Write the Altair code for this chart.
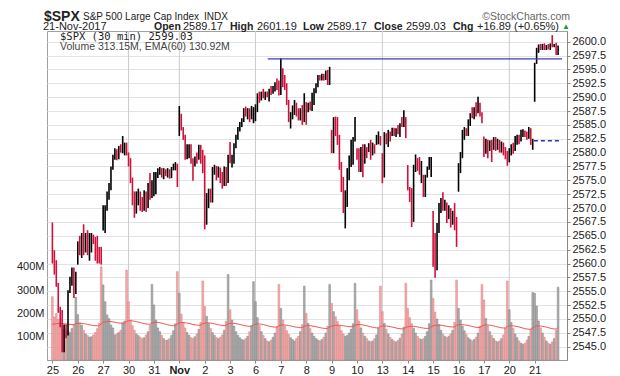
import altair as alt
import pandas as pd

day_labels = ["25", "26", "27", "30", "31", "Nov", "2", "3", "6", "7", "8", "9",
              "10", "13", "14", "15", "16", "17", "20", "21"]
week_start_days = [3, 5, 8, 13, 18]
prev_close = 2569.13

closes = [
    [2561.0, 2559.0, 2556.5, 2552.0, 2549.5, 2545.5, 2547.5, 2547.0, 2554.5, 2557.0, 2558.5, 2555.0, 2557.15],
    [2563.0, 2562.0, 2565.0, 2563.0, 2564.5, 2562.5, 2564.0, 2565.0, 2564.5, 2563.0, 2561.5, 2560.5, 2560.4],
    [2567.0, 2570.0, 2572.5, 2574.0, 2577.0, 2579.2, 2580.5, 2579.0, 2581.0, 2580.4, 2580.5, 2581.6, 2581.07],
    [2578.5, 2575.0, 2571.5, 2569.0, 2572.5, 2573.0, 2570.5, 2570.0, 2572.5, 2570.5, 2573.5, 2572.0, 2572.83],
    [2574.0, 2576.0, 2577.0, 2577.2, 2576.0, 2577.0, 2576.0, 2576.8, 2575.6, 2577.2, 2577.5, 2578.0, 2575.26],
    [2585.5, 2584.5, 2583.0, 2579.5, 2581.0, 2581.2, 2579.0, 2577.5, 2579.0, 2578.5, 2581.0, 2580.0, 2579.36],
    [2568.0, 2571.5, 2573.0, 2572.0, 2576.5, 2577.5, 2576.0, 2577.0, 2575.5, 2574.5, 2577.0, 2575.0, 2579.3],
    [2578.5, 2579.3, 2581.3, 2583.0, 2584.3, 2585.2, 2586.0, 2587.7, 2587.0, 2587.8, 2586.3, 2587.5, 2587.84],
    [2588.2, 2590.0, 2589.5, 2590.5, 2590.0, 2590.7, 2590.3, 2591.3, 2591.0, 2591.8, 2592.5, 2592.0, 2591.13],
    [2594.0, 2592.5, 2591.8, 2589.0, 2586.0, 2586.8, 2588.0, 2589.0, 2587.5, 2586.3, 2587.5, 2586.0, 2589.5],
    [2588.5, 2588.8, 2588.0, 2590.5, 2591.3, 2592.3, 2593.5, 2593.2, 2594.0, 2593.4, 2594.5, 2594.2, 2594.38],
    [2580.5, 2585.0, 2583.5, 2582.0, 2577.5, 2573.5, 2570.0, 2572.5, 2576.0, 2578.5, 2580.5, 2582.0, 2584.62],
    [2579.5, 2578.0, 2580.0, 2578.5, 2580.5, 2580.0, 2581.0, 2580.0, 2581.3, 2580.8, 2582.5, 2582.8, 2582.3],
    [2575.5, 2582.5, 2582.0, 2583.5, 2582.8, 2584.0, 2583.5, 2584.0, 2583.8, 2585.0, 2584.8, 2586.5, 2584.84],
    [2574.0, 2572.0, 2568.0, 2576.5, 2578.5, 2577.5, 2577.0, 2577.8, 2573.0, 2575.5, 2577.0, 2578.5, 2578.87],
    [2561.0, 2559.5, 2566.5, 2570.0, 2571.5, 2570.5, 2571.2, 2568.5, 2570.0, 2568.0, 2568.8, 2567.5, 2564.62],
    [2576.3, 2579.5, 2583.5, 2584.3, 2583.5, 2585.8, 2586.8, 2586.4, 2587.8, 2587.3, 2589.5, 2587.0, 2585.64],
    [2580.0, 2581.5, 2580.5, 2581.3, 2579.5, 2581.5, 2581.0, 2581.8, 2581.0, 2581.5, 2580.3, 2579.5, 2578.85],
    [2580.0, 2581.0, 2580.5, 2582.5, 2582.8, 2582.4, 2583.4, 2583.8, 2583.2, 2582.8, 2583.5, 2582.0, 2582.14],
    [2596.0, 2598.5, 2599.2, 2598.8, 2599.3, 2598.9, 2599.2, 2599.0, 2599.4, 2599.1, 2599.5, 2598.5, 2599.03],
]

highs = [
    [2567.4, 2562.4, 2560.6, 2556.5, 2552.2, 2551.6, 2549.0, 2549.0, 2555.2, 2557.6, 2559.3, 2559.3, 2558.5],
    [2564.0, 2565.0, 2565.5, 2567.07, 2565.5, 2566.0, 2565.5, 2565.5, 2565.2, 2564.8, 2565.0, 2563.0, 2563.0],
    [2570.5, 2570.5, 2573.0, 2574.5, 2577.5, 2579.6, 2580.8, 2580.6, 2581.2, 2581.5, 2582.98, 2581.8, 2581.8],
    [2580.03, 2579.0, 2575.5, 2573.0, 2573.0, 2573.5, 2573.0, 2572.0, 2573.2, 2573.0, 2574.5, 2576.3, 2575.0],
    [2576.5, 2576.5, 2577.2, 2577.4, 2577.2, 2577.2, 2577.0, 2577.2, 2577.0, 2577.4, 2578.0, 2578.29, 2578.0],
    [2588.4, 2587.0, 2584.6, 2583.2, 2581.5, 2581.5, 2581.5, 2579.0, 2579.3, 2580.0, 2581.4, 2581.4, 2580.5],
    [2579.5, 2572.7, 2573.5, 2573.5, 2577.4, 2577.8, 2577.6, 2577.5, 2577.3, 2576.5, 2577.5, 2577.4, 2579.6],
    [2581.9, 2579.6, 2581.7, 2583.2, 2584.6, 2585.5, 2586.2, 2588.0, 2588.3, 2588.0, 2588.0, 2588.42, 2588.2],
    [2588.7, 2590.7, 2591.0, 2591.0, 2591.5, 2591.0, 2591.0, 2591.5, 2592.0, 2592.0, 2592.7, 2593.38, 2593.0],
    [2597.02, 2595.2, 2594.0, 2592.5, 2589.5, 2587.3, 2588.5, 2589.5, 2589.0, 2588.0, 2588.0, 2588.6, 2590.7],
    [2589.1, 2589.0, 2589.2, 2590.8, 2591.6, 2592.5, 2594.0, 2594.0, 2594.2, 2594.2, 2594.8, 2594.9, 2595.47],
    [2584.1, 2586.4, 2586.5, 2586.4, 2583.2, 2578.3, 2575.6, 2573.2, 2577.2, 2579.5, 2582.3, 2582.8, 2586.4],
    [2580.8, 2580.8, 2581.0, 2581.5, 2581.5, 2581.0, 2581.7, 2582.3, 2581.8, 2581.5, 2583.2, 2583.81, 2583.0],
    [2579.9, 2583.7, 2583.5, 2584.1, 2583.8, 2584.5, 2584.5, 2584.4, 2585.0, 2585.3, 2586.4, 2587.66, 2586.4],
    [2577.75, 2573.8, 2573.6, 2577.8, 2579.66, 2579.0, 2579.2, 2578.5, 2576.0, 2576.0, 2577.5, 2579.2, 2579.2],
    [2569.45, 2565.5, 2567.3, 2570.9, 2571.8, 2572.84, 2571.5, 2571.0, 2570.5, 2570.0, 2569.5, 2570.9, 2568.4],
    [2578.1, 2580.1, 2584.1, 2584.6, 2584.4, 2586.0, 2587.1, 2588.2, 2588.2, 2589.1, 2590.09, 2589.0, 2587.3],
    [2582.9, 2582.5, 2582.3, 2582.2, 2582.3, 2582.8, 2582.8, 2582.5, 2582.3, 2582.0, 2581.8, 2581.0, 2580.3],
    [2580.8, 2581.5, 2581.8, 2583.0, 2583.2, 2583.2, 2584.1, 2584.2, 2584.0, 2583.8, 2584.64, 2584.4, 2582.5],
    [2596.2, 2598.9, 2599.5, 2599.6, 2599.6, 2599.7, 2599.4, 2599.6, 2599.7, 2601.19, 2599.6, 2599.8, 2599.3],
]

lows = [
    [2560.0, 2558.0, 2555.8, 2551.1, 2548.5, 2544.0, 2544.0, 2546.5, 2547.0, 2554.7, 2556.0, 2553.8, 2554.5],
    [2559.8, 2561.5, 2561.0, 2561.5, 2562.0, 2561.5, 2560.5, 2562.0, 2563.5, 2560.5, 2560.0, 2560.0, 2559.8],
    [2565.94, 2565.5, 2569.5, 2571.5, 2573.2, 2576.9, 2578.7, 2578.6, 2578.8, 2580.0, 2579.9, 2579.5, 2579.5],
    [2577.5, 2574.5, 2570.5, 2568.25, 2569.0, 2570.5, 2569.5, 2569.3, 2569.5, 2569.3, 2570.0, 2571.5, 2571.8],
    [2572.15, 2572.5, 2575.4, 2576.0, 2575.5, 2575.2, 2575.8, 2575.5, 2575.3, 2575.4, 2576.8, 2576.8, 2573.8],
    [2583.0, 2584.0, 2582.3, 2578.7, 2578.8, 2579.0, 2578.0, 2574.92, 2577.5, 2578.0, 2578.7, 2578.0, 2576.3],
    [2566.17, 2567.0, 2570.0, 2571.0, 2571.0, 2576.0, 2575.0, 2575.5, 2574.5, 2573.5, 2574.0, 2574.0, 2574.5],
    [2578.1, 2577.3, 2578.0, 2580.8, 2582.3, 2583.8, 2584.6, 2585.5, 2586.5, 2586.0, 2585.5, 2586.0, 2585.3],
    [2585.66, 2587.3, 2589.0, 2589.4, 2589.8, 2589.5, 2590.0, 2589.2, 2590.4, 2590.6, 2591.0, 2591.3, 2590.3],
    [2590.4, 2591.8, 2591.3, 2588.6, 2585.5, 2584.35, 2586.0, 2586.8, 2586.5, 2585.8, 2585.8, 2585.0, 2585.5],
    [2585.02, 2587.3, 2587.6, 2587.5, 2588.6, 2590.7, 2591.8, 2593.0, 2593.0, 2593.0, 2593.1, 2592.2, 2592.2],
    [2579.9, 2579.9, 2583.0, 2581.4, 2576.9, 2572.9, 2569.1, 2566.33, 2570.2, 2575.0, 2577.4, 2577.8, 2582.0],
    [2578.7, 2576.5, 2576.5, 2575.57, 2578.0, 2579.0, 2580.1, 2578.7, 2579.5, 2579.8, 2581.4, 2581.5, 2581.3],
    [2574.48, 2575.5, 2581.5, 2581.0, 2582.0, 2583.0, 2583.0, 2582.8, 2583.3, 2582.8, 2584.6, 2584.6, 2582.6],
    [2573.2, 2571.1, 2566.56, 2567.5, 2576.5, 2576.7, 2576.0, 2574.5, 2572.0, 2572.0, 2575.5, 2576.9, 2575.6],
    [2559.4, 2557.45, 2558.8, 2565.5, 2569.1, 2569.5, 2569.5, 2567.3, 2568.0, 2566.5, 2567.0, 2566.0, 2563.0],
    [2572.95, 2576.3, 2579.0, 2582.3, 2583.0, 2583.0, 2584.8, 2586.2, 2586.0, 2586.5, 2587.1, 2586.5, 2585.3],
    [2579.2, 2579.8, 2579.0, 2580.3, 2578.3, 2580.5, 2580.3, 2580.5, 2580.0, 2580.0, 2579.5, 2578.8, 2577.62],
    [2578.24, 2579.5, 2579.8, 2580.3, 2581.4, 2581.5, 2582.0, 2582.8, 2582.8, 2582.3, 2582.5, 2581.4, 2580.5],
    [2589.17, 2596.0, 2598.0, 2598.5, 2598.5, 2598.5, 2598.5, 2598.6, 2598.5, 2599.0, 2599.0, 2597.6, 2597.6],
]

# volume in millions
volumes = [
    [272, 185, 200, 175, 160, 150, 130, 122, 128, 118, 135, 150, 270],
    [195, 160, 150, 128, 112, 105, 98, 100, 108, 118, 135, 158, 401],
    [323, 251, 194, 178, 151, 138, 108, 112, 118, 128, 160, 168, 387],
    [250, 172, 148, 128, 112, 105, 98, 92, 96, 108, 122, 148, 325],
    [237, 172, 138, 122, 106, 92, 84, 86, 92, 106, 126, 156, 380],
    [287, 198, 162, 138, 118, 106, 96, 92, 100, 112, 132, 162, 340],
    [230, 188, 158, 136, 118, 106, 96, 92, 98, 108, 128, 166, 368],
    [216, 172, 146, 122, 106, 96, 88, 86, 92, 102, 122, 148, 337],
    [251, 182, 148, 122, 106, 92, 82, 78, 86, 98, 116, 142, 325],
    [222, 172, 146, 126, 110, 96, 88, 82, 92, 102, 122, 152, 318],
    [201, 158, 136, 116, 102, 92, 86, 82, 88, 98, 116, 146, 325],
    [244, 208, 186, 166, 146, 126, 112, 102, 106, 116, 132, 156, 330],
    [216, 168, 138, 116, 102, 92, 82, 78, 82, 92, 108, 138, 318],
    [208, 158, 132, 112, 98, 88, 82, 78, 84, 94, 112, 142, 330],
    [222, 182, 156, 136, 116, 102, 92, 88, 92, 102, 122, 156, 344],
    [265, 206, 176, 152, 128, 112, 102, 96, 102, 112, 128, 162, 344],
    [222, 172, 146, 126, 110, 96, 88, 82, 88, 98, 116, 146, 325],
    [258, 178, 146, 122, 106, 92, 82, 78, 82, 92, 108, 138, 340],
    [216, 162, 136, 112, 96, 82, 72, 68, 72, 86, 102, 132, 290],
    [287, 232, 168, 138, 116, 98, 82, 72, 68, 78, 92, 128, 313.15],
]

rows = []
last = prev_close
ema = 150.0
n = 0
for d in range(len(day_labels)):
    for b in range(13):
        c = closes[d][b]
        up = c >= last
        v = volumes[d][b]
        ema = ema + (v - ema) * 2.0 / 61.0
        rows.append({
            "i": n, "high": highs[d][b], "low": lows[d][b], "close": c,
            "vol": v * 1e6, "ema": ema * 1e6,
            "pc": "#000000" if up else "#d0103a",
            "vf": "#a0a0a0" if up else "#ee9e9e",
            "vs": "#858585" if up else "#df7f7f",
        })
        last = c
        n += 1
df = pd.DataFrame(rows)

day_starts = [13 * k for k in range(len(day_labels))]
week_lines = pd.DataFrame({"i": [13 * k for k in week_start_days]})
price_ticks = [2545 + 2.5 * k for k in range(23)]

xscale = alt.Scale(domain=[-0.2, 261.0], nice=False, zero=False)
pscale = alt.Scale(domain=[2542.6, 2601.93], nice=False, zero=False)
vscale = alt.Scale(domain=[0, 1415e6], nice=False, zero=True)

label_js = "[" + ",".join("'" + s + "'" for s in day_labels) + "]"
xaxis = alt.Axis(values=day_starts, labelExpr=label_js + "[round(datum.value/13)]",
                 title=None, grid=False, tickSize=3, tickColor="#888888",
                 domainColor="#999999", labelPadding=1, labelFontSize=11,
                 labelFlush=False, labelOverlap=False, labelColor="#222222",
                 labelFontWeight={"expr": "datum.value == 65 ? 'bold' : 'normal'"})
paxis = alt.Axis(orient="right", values=price_ticks, format=".1f", title=None,
                 grid=True, gridColor="#e3e3e3", tickSize=3, tickColor="#888888",
                 domainColor="#888888", labelPadding=2, labelFontSize=11,
                 labelOverlap=False, labelColor="#222222")
vaxis = alt.Axis(orient="left", values=[1e8, 2e8, 3e8, 4e8],
                 labelExpr="datum.value/1e6 + 'M'", grid=False, domain=False,
                 ticks=False, title=None, labelFontSize=11, labelPadding=3,
                 labelOverlap=False, labelColor="#222222")

grid_rules = alt.Chart(week_lines).mark_rule(color="#cccccc", strokeWidth=1).encode(
    x=alt.X("i:Q", scale=xscale, axis=xaxis))

vol_bars = alt.Chart(df).mark_bar(width=1.75, strokeWidth=0.5, fillOpacity=0.85).encode(
    x=alt.X("i:Q", scale=xscale, axis=xaxis),
    y=alt.Y("vol:Q", scale=vscale, axis=vaxis),
    fill=alt.Fill("vf:N", scale=None),
    stroke=alt.Stroke("vs:N", scale=None),
)

ema_line = alt.Chart(df).mark_line(color="#f05252", strokeWidth=1).encode(
    x=alt.X("i:Q", scale=xscale, axis=xaxis),
    y=alt.Y("ema:Q", scale=vscale, axis=vaxis),
)

vol_layer = alt.layer(grid_rules, vol_bars, ema_line)

price_bars = alt.Chart(df).mark_rule(strokeWidth=1.6).encode(
    x=alt.X("i:Q", scale=xscale, axis=xaxis),
    y=alt.Y("low:Q", scale=pscale, axis=paxis),
    y2="high:Q",
    color=alt.Color("pc:N", scale=None),
)

hi_line = alt.Chart(pd.DataFrame({"x0": [110.3], "x1": [261.0], "y": [2596.9]})).mark_rule(
    color="#3c3cc0", strokeWidth=1.4).encode(
    x=alt.X("x0:Q", scale=xscale, axis=xaxis), x2="x1:Q",
    y=alt.Y("y:Q", scale=pscale, axis=paxis))

pc_line = alt.Chart(pd.DataFrame({"x0": [246.6], "x1": [261.0], "y": [2582.14]})).mark_rule(
    color="#2233bb", strokeWidth=1.4, strokeDash=[4, 3]).encode(
    x=alt.X("x0:Q", scale=xscale, axis=xaxis), x2="x1:Q",
    y=alt.Y("y:Q", scale=pscale, axis=paxis))


def txt(t, x, y, size=11, weight="normal", font="Liberation Sans", color="#222222", align="left"):
    return alt.Chart(pd.DataFrame({"t": [t]})).mark_text(
        align=align, baseline="alphabetic", fontSize=size, fontWeight=weight,
        font=font, color=color).encode(x=alt.value(x), y=alt.value(y), text="t:N")


texts = [
    txt("$SPX", -3, -10.5, size=14, weight="bold"),
    txt("S&P 500 Large Cap Index", 36, -11.5, size=10),
    txt("INDX", 157, -11.5, size=10),
    txt("\u00a9StockCharts.com", 523, -11.5, size=10.5, color="#666666", align="right"),
    txt("21-Nov-2017", -4, -1.5, size=11),
    txt("Open", 107, -1.5, size=10.5, weight="bold"),
    txt("2589.17", 136, -1.5, size=11),
    txt("High", 183, -1.5, size=10.5, weight="bold"),
    txt("2601.19", 210, -1.5, size=11),
    txt("Low", 256, -1.5, size=10.5, weight="bold"),
    txt("2589.17", 280, -1.5, size=11),
    txt("Close", 327, -1.5, size=10.5, weight="bold"),
    txt("2599.03", 359, -1.5, size=11),
    txt("Chg", 406, -1.5, size=10.5, weight="bold"),
    txt("+16.89 (+0.65%)", 430, -1.5, size=11),
    txt("\u25b2", 515, -2.5, size=8, color="#1a9a3a"),
    txt("$SPX (30 min) 2599.03", 13, 8.5, size=10.5, font="DejaVu Sans Mono"),
    txt("Volume 313.15M, EMA(60) 130.92M", 13, 19, size=10.5, color="#444444"),
]

price_layer = alt.layer(price_bars, hi_line, pc_line, *texts)

chart = alt.layer(vol_layer, price_layer).resolve_scale(y="independent").properties(
    width=520, height=329,
    padding={"left": 39, "top": 23, "right": 45, "bottom": 16},
    autosize=alt.AutoSizeParams(type="none"),
).configure_view(stroke="#a0a0a0").configure_axis(labelFont="Liberation Sans")

chart.save("out.html", embed_options={"renderer": "svg", "actions": False})
